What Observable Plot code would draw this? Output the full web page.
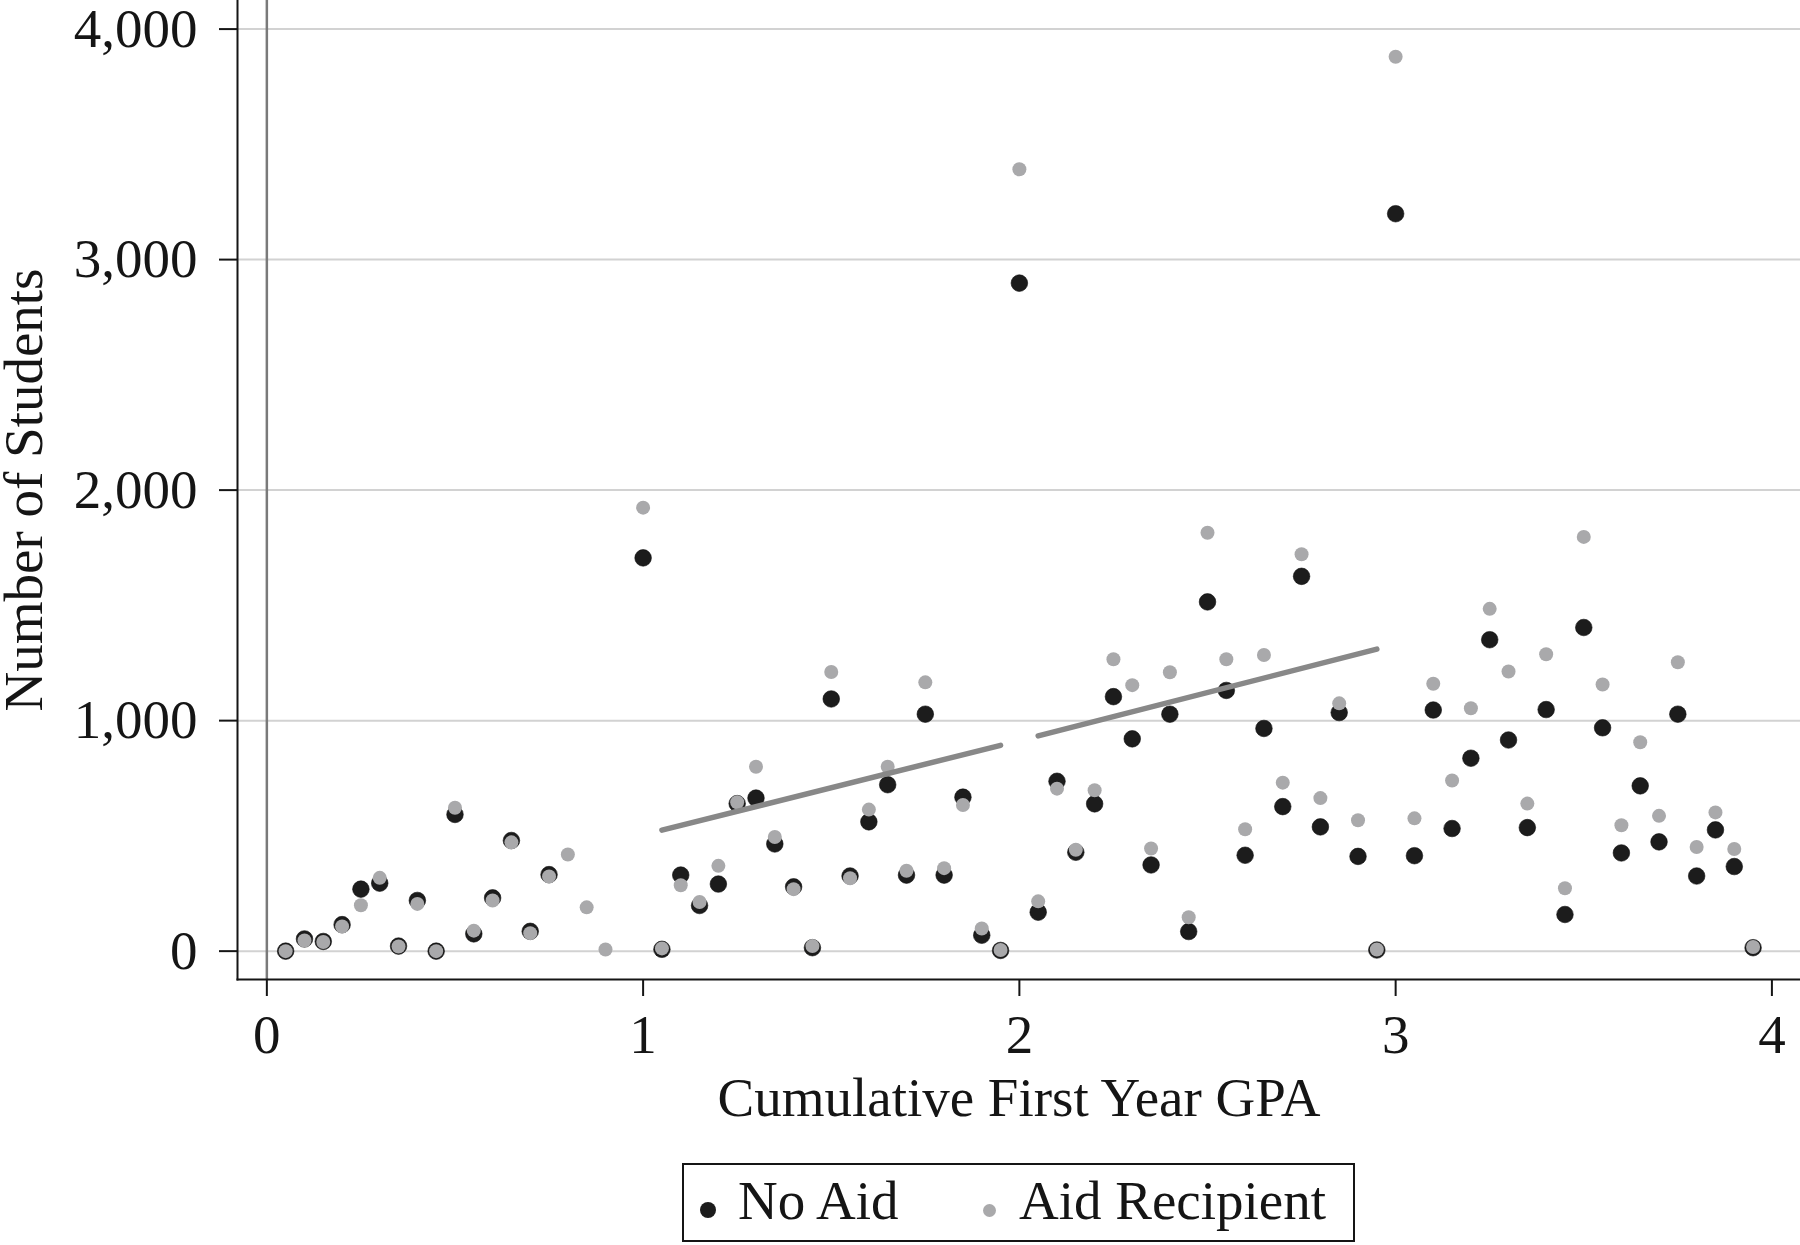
<!DOCTYPE html>
<html>
<head>
<meta charset="utf-8">
<script src="https://cdn.jsdelivr.net/npm/d3@7"></script>
<script src="https://cdn.jsdelivr.net/npm/@observablehq/plot@0.6"></script>
<style>
  body { margin: 0; background: #fff; font-family: "Liberation Serif", "Times New Roman", serif; }
  #wrap { position: relative; width: 1800px; height: 1245px; }
  #legend { position: absolute; left: 682px; top: 1163px; width: 673px; height: 79px; box-sizing: border-box; border: 2px solid #151515; background: #fff; }
  .dot { position: absolute; border-radius: 50%; }
  .lab { position: absolute; top: 8px; font-size: 55px; line-height: 1; color: #151515; white-space: nowrap; }
</style>
</head>
<body>
<div id="wrap">
  <div id="chart"></div>
  <div id="legend"></div>
</div>
<script>
// ---- data ----
const gpa = [0.05,0.10,0.15,0.20,0.25,0.30,0.35,0.40,0.45,0.50,0.55,0.60,0.65,0.70,0.75,0.80,0.85,0.90,0.95,
  1.00,1.05,1.10,1.15,1.20,1.25,1.30,1.35,1.40,1.45,1.50,1.55,1.60,1.65,1.70,1.75,1.80,1.85,1.90,1.95,
  2.00,2.05,2.10,2.15,2.20,2.25,2.30,2.35,2.40,2.45,2.50,2.55,2.60,2.65,2.70,2.75,2.80,2.85,2.90,2.95,
  3.00,3.05,3.10,3.15,3.20,3.25,3.30,3.35,3.40,3.45,3.50,3.55,3.60,3.65,3.70,3.75,3.80,3.85,3.90,3.95];

const noAid = [0,53,42,115,269,295,22,220,0,593,75,231,480,86,332,null,null,null,null,
  1706,8,330,198,291,640,664,465,279,15,1094,326,561,722,330,1028,330,668,69,3,
  2898,169,737,429,639,1104,921,374,1028,85,1515,1131,416,966,627,1626,539,1035,411,5,
  3199,414,1046,532,837,1351,916,536,1048,159,1404,969,426,717,474,1028,326,526,367,15];

const aidRecipient = [0,46,40,107,199,318,20,205,0,622,89,220,472,78,324,419,190,7,null,
  1924,12,286,213,370,646,800,495,269,22,1211,316,614,800,349,1166,360,634,98,5,
  3392,216,705,440,698,1266,1154,445,1210,147,1815,1266,529,1285,731,1722,664,1075,568,7,
  3880,576,1160,740,1054,1485,1213,640,1288,273,1797,1157,546,906,587,1253,452,602,443,18];

// fitted lines on each side of the 2.0 threshold
const fitGpa = [1.05, 1.95, 2.05, 2.95];
const fitStudents = [525, 893, 934, 1310];
const fitSide = ["below", "below", "above", "above"];

const xTicks = [0, 1, 2, 3, 4];
const yTicks = [0, 1000, 2000, 3000, 4000];
const seriesNames = ["No Aid", "Aid Recipient"];
const xTitle = "Cumulative First Year GPA";
const yTitle = "Number of Students";

// ---- build tables ----
const noAidPts = gpa.map((g, i) => ({gpa: g, n: noAid[i]})).filter(d => d.n != null);
const aidPts = gpa.map((g, i) => ({gpa: g, n: aidRecipient[i]})).filter(d => d.n != null);
const fit = fitGpa.map((g, i) => ({gpa: g, n: fitStudents[i], side: fitSide[i]}));

const chart = Plot.plot({
  width: 1800,
  height: 1150,
  marginLeft: 237,
  marginRight: 0,
  marginTop: 0,
  marginBottom: 171,
  style: {fontFamily: "'Liberation Serif', 'Times New Roman', serif", fontSize: "55px", color: "#151515", background: "#fff"},
  x: {domain: [-0.078, 4.076]},
  y: {domain: [-123, 4124]},
  marks: [
    Plot.gridY(yTicks, {stroke: "#d2d2d2", strokeOpacity: 1, strokeWidth: 2}),
    Plot.ruleX([0], {stroke: "#7a7a7a", strokeWidth: 2.5}),
    Plot.dot(noAidPts, {x: "gpa", y: "n", r: 8.3, fill: "#1c1c1c", stroke: "#0e0e0e", strokeWidth: 0.6}),
    Plot.dot(aidPts, {x: "gpa", y: "n", r: 7, fill: "#a9a9ab"}),
    Plot.line(fit, {x: "gpa", y: "n", z: "side", stroke: "#888888", strokeWidth: 5.5, strokeLinecap: "round"}),
    Plot.axisX(xTicks, {tickSize: 17, tickPadding: 17, tickFormat: d => String(d), strokeWidth: 2,
      label: xTitle, labelAnchor: "center", labelOffset: 136, labelArrow: "none"}),
    Plot.axisY(yTicks, {tickSize: 18, tickPadding: 22, tickFormat: d3.format(","), strokeWidth: 2, label: null}),
    Plot.text([yTitle], {frameAnchor: "left", dx: -213, rotate: -90, textAnchor: "middle", text: d => d, fontSize: 55, fill: "#151515"}),
    Plot.frame({anchor: "left", stroke: "#151515", strokeWidth: 2}),
    Plot.frame({anchor: "bottom", stroke: "#151515", strokeWidth: 2})
  ]
});
document.getElementById("chart").appendChild(chart);

// ---- legend ----
const legend = document.getElementById("legend");
const legendItems = [
  {name: seriesNames[0], color: "#1c1c1c", d: 16, dotLeft: 15.6, dotTop: 37, textLeft: 54},
  {name: seriesNames[1], color: "#a9a9ab", d: 13, dotLeft: 299.3, dotTop: 39.2, textLeft: 335}
];
for (const it of legendItems) {
  const dot = document.createElement("div");
  dot.className = "dot";
  dot.style.cssText = `left:${it.dotLeft}px;top:${it.dotTop}px;width:${it.d}px;height:${it.d}px;background:${it.color};`;
  legend.appendChild(dot);
  const lab = document.createElement("span");
  lab.className = "lab";
  lab.style.left = it.textLeft + "px";
  lab.textContent = it.name;
  legend.appendChild(lab);
}
</script>
</body>
</html>
